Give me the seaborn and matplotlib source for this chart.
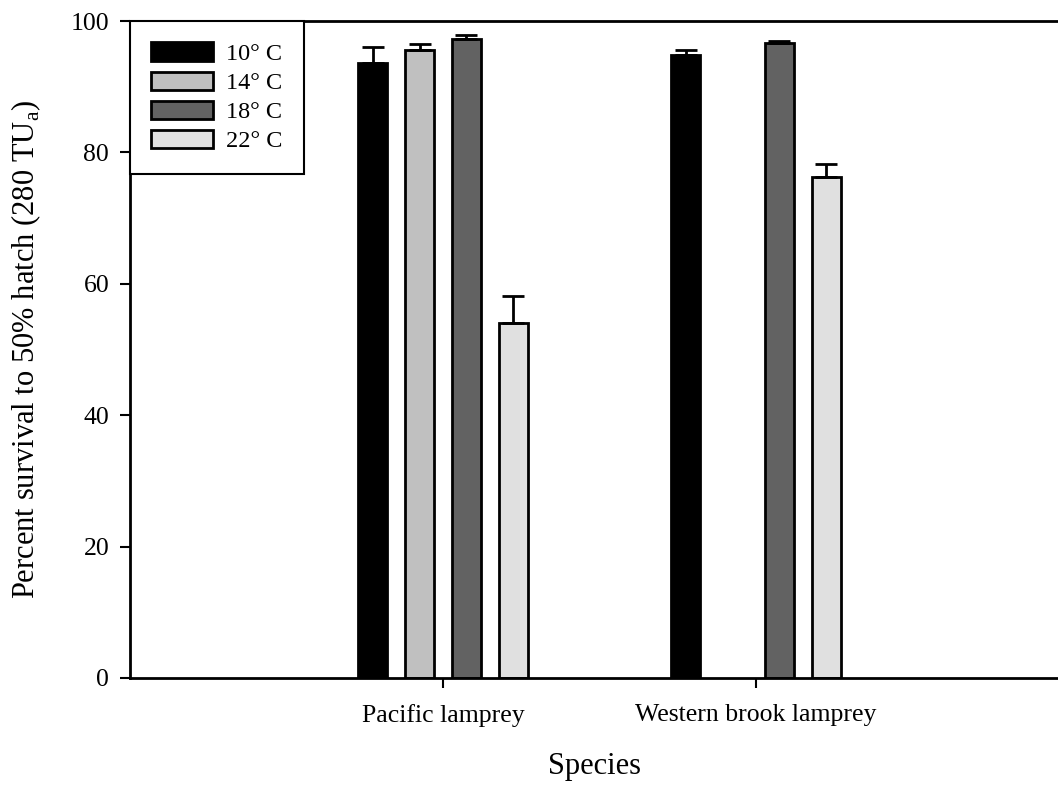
import numpy as np
import pandas as pd
import matplotlib
matplotlib.use("Agg")
import matplotlib.pyplot as plt
import seaborn as sns

species = ["Pacific lamprey", "Western brook lamprey"]
temps = ["10° C", "14° C", "18° C", "22° C"]
pacific_mean = [93.6, 95.6, 97.2, 54.0]
pacific_err = [2.4, 0.9, 0.6, 4.2]
western_mean = [94.8, np.nan, 96.6, 76.2]
western_err = [0.8, np.nan, 0.3, 2.1]
colors = ["#000000", "#c0c0c0", "#626262", "#e0e0e0"]

sns.set_style("white")
plt.rcParams["font.family"] = ["Liberation Serif", "DejaVu Serif"]
plt.rcParams["mathtext.fontset"] = "custom"
plt.rcParams["mathtext.rm"] = "Liberation Serif"
plt.rcParams["text.color"] = "black"
plt.rcParams["axes.labelcolor"] = "black"

rows = []
for sp, means, errs in [(species[0], pacific_mean, pacific_err),
                        (species[1], western_mean, western_err)]:
    for t, m, e in zip(temps, means, errs):
        rows.append({"Species": sp, "Temp": t, "Survival": m, "Err": e})
df = pd.DataFrame(rows)
df_plot = df.dropna(subset=["Survival"])

fig = plt.figure(figsize=(10.58, 7.90), dpi=100)
ax = fig.add_axes([130 / 1058, 112 / 790, 928 / 1058, 657 / 790])

sns.barplot(data=df_plot, x="Species", y="Survival", hue="Temp",
            order=species, hue_order=temps, palette=colors,
            width=0.6, gap=0.38, errorbar=None, edgecolor="black",
            linewidth=2, saturation=1, ax=ax)

err_lookup = {(r.Species, r.Temp): (r.Survival, r.Err) for r in df.itertuples()}
for t, cont in zip(temps, ax.containers):
    for bar in cont:
        h = bar.get_height()
        if np.isnan(h):
            continue
        xc = bar.get_x() + bar.get_width() / 2
        sp = species[int(round(xc))]
        m, e = err_lookup[(sp, t)]
        ax.errorbar([xc], [m], yerr=[[0], [e]], fmt="none", ecolor="black",
                    elinewidth=2, capsize=8, capthick=2, zorder=1)

ax.set_xlim(-1.0, 1.965)
ax.set_ylim(0, 100)
ax.set_yticks([0, 20, 40, 60, 80, 100])
ax.tick_params(axis="both", direction="out", length=7, width=1.5,
               labelsize=18.5, colors="black", left=True, bottom=True)
ax.tick_params(axis="y", pad=8)
ax.tick_params(axis="x", pad=12)
for side in ["left", "bottom", "top"]:
    ax.spines[side].set_visible(True)
    ax.spines[side].set_color("black")
    ax.spines[side].set_linewidth(2)
ax.spines["right"].set_visible(False)

ax.set_xlabel("Species", fontsize=22, labelpad=18, color="black")
ax.set_ylabel("Percent survival to 50% hatch (280 TU$_\\mathrm{a}$)",
              fontsize=22, labelpad=20, color="black")

leg = ax.legend(loc="upper left", bbox_to_anchor=(0, 1), fontsize=17.5,
                frameon=True, fancybox=False, edgecolor="black",
                handlelength=2.55, handleheight=0.78, labelspacing=0.27,
                borderpad=0.88, handletextpad=0.53, borderaxespad=0)
leg.get_frame().set_linewidth(1.5)
leg.get_frame().set_alpha(1)
for txt in leg.get_texts():
    txt.set_color("black")

fig.savefig("out.png", dpi=100)
